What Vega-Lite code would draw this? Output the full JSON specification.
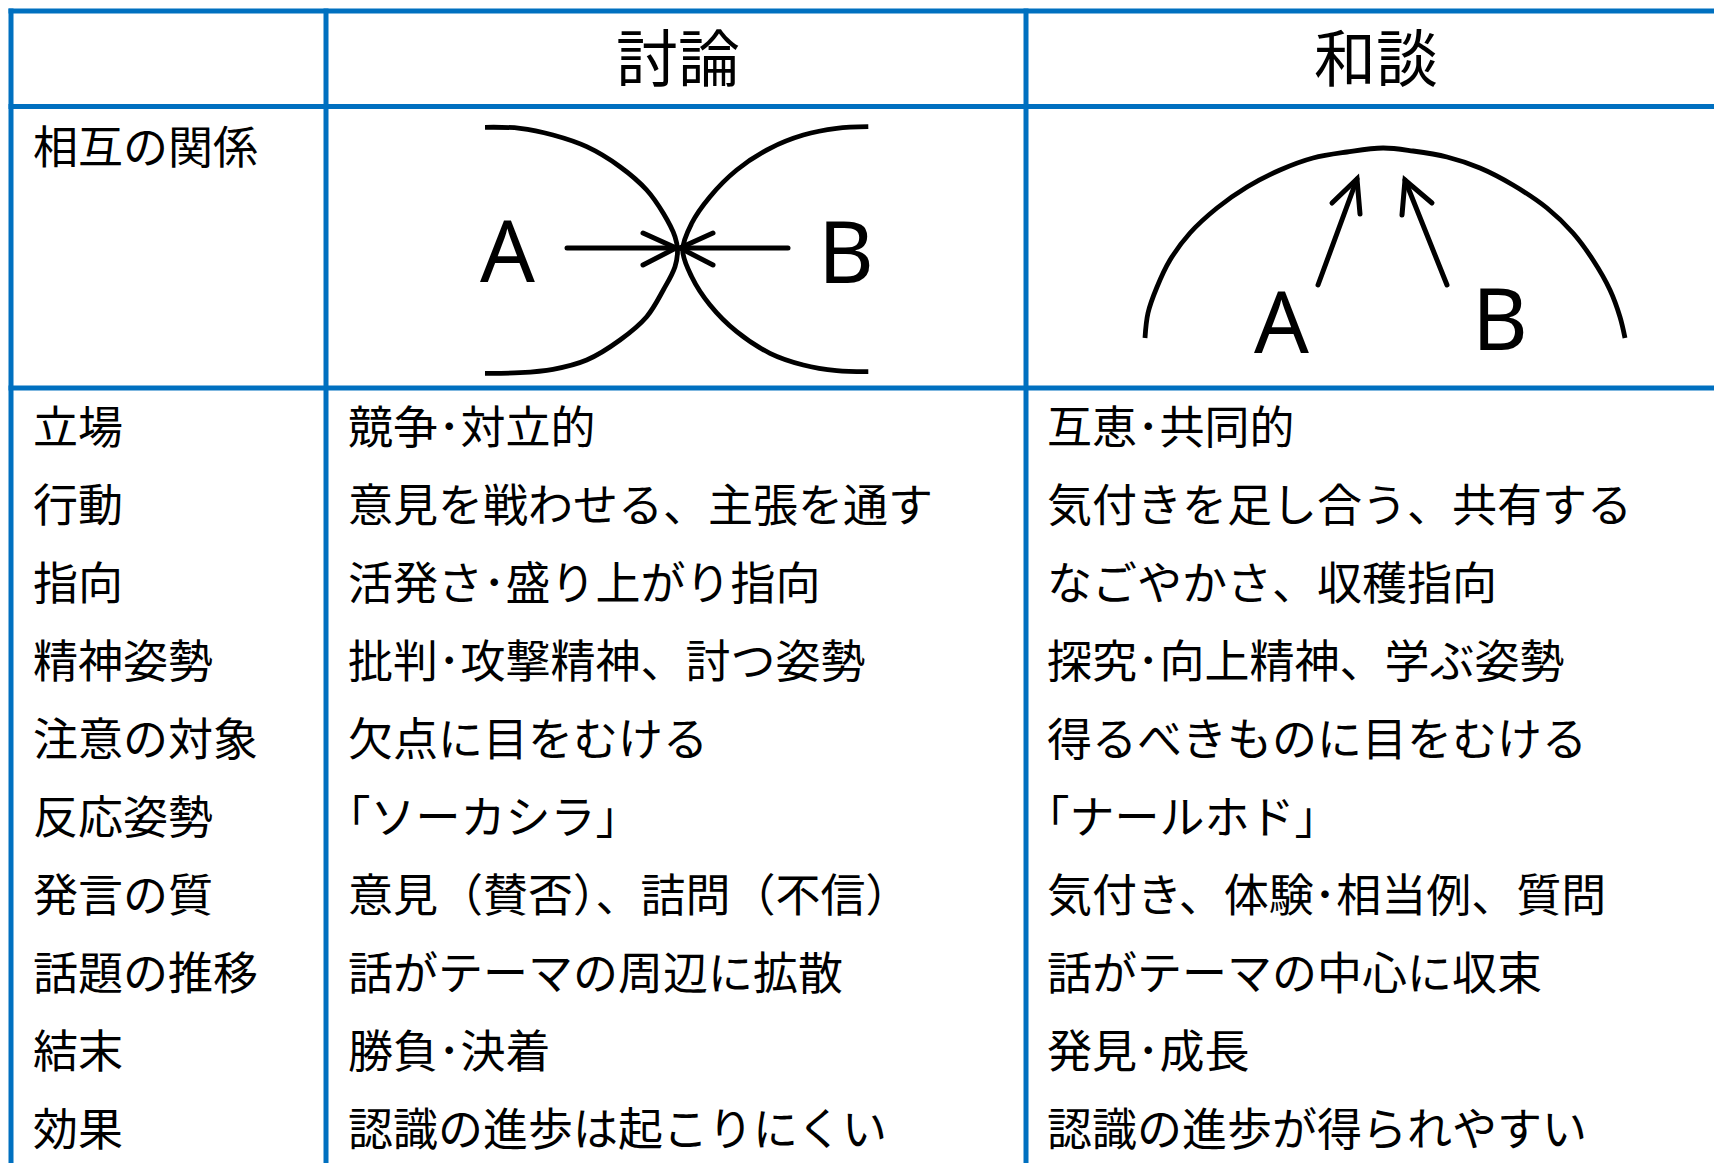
{
  "$schema": "https://vega.github.io/schema/vega-lite/v6.json",
  "width": 1714,
  "height": 1163,
  "padding": 0,
  "autosize": "none",
  "background": "white",
  "config": {"view": {"stroke": null}},
  "datasets": {
    "grid": [
      {"x": 11, "y": 11, "x2": 1714, "y2": 11},
      {"x": 11, "y": 106.5, "x2": 1714, "y2": 106.5},
      {"x": 11, "y": 388, "x2": 1714, "y2": 388},
      {"x": 11, "y": 11, "x2": 11, "y2": 1163},
      {"x": 326, "y": 11, "x2": 326, "y2": 1163},
      {"x": 1026, "y": 11, "x2": 1026, "y2": 1163}
    ],
    "arcs": [
      {"g": "L", "i": 0, "x": 485, "y": 127.3},
      {"g": "L", "i": 1, "x": 520, "y": 128.3},
      {"g": "L", "i": 2, "x": 553, "y": 135},
      {"g": "L", "i": 3, "x": 586.7, "y": 146.7},
      {"g": "L", "i": 4, "x": 620, "y": 166.7},
      {"g": "L", "i": 5, "x": 646.7, "y": 190},
      {"g": "L", "i": 6, "x": 663.3, "y": 213.3},
      {"g": "L", "i": 7, "x": 675, "y": 236.7},
      {"g": "L", "i": 8, "x": 677.5, "y": 250},
      {"g": "L", "i": 9, "x": 675, "y": 266.7},
      {"g": "L", "i": 10, "x": 663.3, "y": 290},
      {"g": "L", "i": 11, "x": 646.7, "y": 316.7},
      {"g": "L", "i": 12, "x": 620, "y": 340},
      {"g": "L", "i": 13, "x": 586.7, "y": 360},
      {"g": "L", "i": 14, "x": 553, "y": 369.3},
      {"g": "L", "i": 15, "x": 520, "y": 372.7},
      {"g": "L", "i": 16, "x": 485, "y": 373.3},
      {"g": "R", "i": 0, "x": 868.3, "y": 126.7},
      {"g": "R", "i": 1, "x": 836.7, "y": 128.3},
      {"g": "R", "i": 2, "x": 803.3, "y": 135},
      {"g": "R", "i": 3, "x": 770, "y": 148.3},
      {"g": "R", "i": 4, "x": 736.7, "y": 170},
      {"g": "R", "i": 5, "x": 710, "y": 196.7},
      {"g": "R", "i": 6, "x": 691.7, "y": 223.3},
      {"g": "R", "i": 7, "x": 682.7, "y": 250},
      {"g": "R", "i": 8, "x": 691.7, "y": 276.7},
      {"g": "R", "i": 9, "x": 710, "y": 305},
      {"g": "R", "i": 10, "x": 736.7, "y": 331.7},
      {"g": "R", "i": 11, "x": 770, "y": 353.3},
      {"g": "R", "i": 12, "x": 803.3, "y": 365},
      {"g": "R", "i": 13, "x": 836.7, "y": 370.7},
      {"g": "R", "i": 14, "x": 868.3, "y": 371.7},
      {"g": "D", "i": 0, "x": 1145, "y": 338},
      {"g": "D", "i": 1, "x": 1148, "y": 313},
      {"g": "D", "i": 2, "x": 1157, "y": 287},
      {"g": "D", "i": 3, "x": 1170, "y": 260},
      {"g": "D", "i": 4, "x": 1190, "y": 233},
      {"g": "D", "i": 5, "x": 1217, "y": 208},
      {"g": "D", "i": 6, "x": 1247, "y": 187},
      {"g": "D", "i": 7, "x": 1280, "y": 170},
      {"g": "D", "i": 8, "x": 1313, "y": 158},
      {"g": "D", "i": 9, "x": 1347, "y": 152},
      {"g": "D", "i": 10, "x": 1383, "y": 148},
      {"g": "D", "i": 11, "x": 1413, "y": 151},
      {"g": "D", "i": 12, "x": 1447, "y": 157},
      {"g": "D", "i": 13, "x": 1480, "y": 168},
      {"g": "D", "i": 14, "x": 1513, "y": 185},
      {"g": "D", "i": 15, "x": 1547, "y": 208},
      {"g": "D", "i": 16, "x": 1573, "y": 233},
      {"g": "D", "i": 17, "x": 1593, "y": 260},
      {"g": "D", "i": 18, "x": 1610, "y": 290},
      {"g": "D", "i": 19, "x": 1620, "y": 317},
      {"g": "D", "i": 20, "x": 1625, "y": 338}
    ],
    "arrows": [
      {"g": "aS", "i": 0, "x": 567, "y": 248},
      {"g": "aS", "i": 1, "x": 676, "y": 248},
      {"g": "aH", "i": 0, "x": 643, "y": 233},
      {"g": "aH", "i": 1, "x": 676, "y": 248},
      {"g": "aH", "i": 2, "x": 643, "y": 265},
      {"g": "bS", "i": 0, "x": 788, "y": 248},
      {"g": "bS", "i": 1, "x": 680, "y": 248},
      {"g": "bH", "i": 0, "x": 713, "y": 233},
      {"g": "bH", "i": 1, "x": 680, "y": 248},
      {"g": "bH", "i": 2, "x": 713, "y": 265},
      {"g": "cS", "i": 0, "x": 1318, "y": 285},
      {"g": "cS", "i": 1, "x": 1357, "y": 179},
      {"g": "cH", "i": 0, "x": 1332, "y": 203},
      {"g": "cH", "i": 1, "x": 1357, "y": 179},
      {"g": "cH", "i": 2, "x": 1360, "y": 214},
      {"g": "dS", "i": 0, "x": 1447, "y": 285},
      {"g": "dS", "i": 1, "x": 1405, "y": 180},
      {"g": "dH", "i": 0, "x": 1432, "y": 203},
      {"g": "dH", "i": 1, "x": 1405, "y": 180},
      {"g": "dH", "i": 2, "x": 1402, "y": 215}
    ],
    "letters": [
      {"x": 507.5, "y": 251, "t": "A"},
      {"x": 846, "y": 251.5, "t": "B"},
      {"x": 1281.5, "y": 322, "t": "A"},
      {"x": 1500, "y": 319, "t": "B"}
    ],
    "headers": [
      {"c": 1, "t": "討論"},
      {"c": 2, "t": "和談"}
    ],
    "body": [
      {"c": 0, "r": 0, "t": "相互の関係"},
      {"c": 0, "r": 1, "t": "立場"},
      {"c": 0, "r": 2, "t": "行動"},
      {"c": 0, "r": 3, "t": "指向"},
      {"c": 0, "r": 4, "t": "精神姿勢"},
      {"c": 0, "r": 5, "t": "注意の対象"},
      {"c": 0, "r": 6, "t": "反応姿勢"},
      {"c": 0, "r": 7, "t": "発言の質"},
      {"c": 0, "r": 8, "t": "話題の推移"},
      {"c": 0, "r": 9, "t": "結末"},
      {"c": 0, "r": 10, "t": "効果"},
      {"c": 1, "r": 1, "t": "競争･対立的"},
      {"c": 1, "r": 2, "t": "意見を戦わせる、主張を通す"},
      {"c": 1, "r": 3, "t": "活発さ･盛り上がり指向"},
      {"c": 1, "r": 4, "t": "批判･攻撃精神、討つ姿勢"},
      {"c": 1, "r": 5, "t": "欠点に目をむける"},
      {"c": 1, "r": 6, "t": "｢ソーカシラ｣"},
      {"c": 1, "r": 7, "t": "意見（賛否）、詰問（不信）"},
      {"c": 1, "r": 8, "t": "話がテーマの周辺に拡散"},
      {"c": 1, "r": 9, "t": "勝負･決着"},
      {"c": 1, "r": 10, "t": "認識の進歩は起こりにくい"},
      {"c": 2, "r": 1, "t": "互恵･共同的"},
      {"c": 2, "r": 2, "t": "気付きを足し合う、共有する"},
      {"c": 2, "r": 3, "t": "なごやかさ、収穫指向"},
      {"c": 2, "r": 4, "t": "探究･向上精神、学ぶ姿勢"},
      {"c": 2, "r": 5, "t": "得るべきものに目をむける"},
      {"c": 2, "r": 6, "t": "｢ナールホド｣"},
      {"c": 2, "r": 7, "t": "気付き、体験･相当例、質問"},
      {"c": 2, "r": 8, "t": "話がテーマの中心に収束"},
      {"c": 2, "r": 9, "t": "発見･成長"},
      {"c": 2, "r": 10, "t": "認識の進歩が得られやすい"}
    ]
  },
  "layer": [
    {
      "data": {"name": "grid"},
      "mark": {"type": "rule", "color": "#0070C0", "strokeWidth": 5, "strokeCap": "square"},
      "encoding": {
        "x": {"field": "x", "type": "quantitative", "axis": null, "scale": {"domain": [0, 1714], "range": [0, 1714], "nice": false, "zero": false}},
        "x2": {"field": "x2"},
        "y": {"field": "y", "type": "quantitative", "axis": null, "scale": {"domain": [0, 1163], "range": [0, 1163], "nice": false, "zero": false}},
        "y2": {"field": "y2"}
      }
    },
    {
      "data": {"name": "arcs"},
      "mark": {"type": "line", "color": "black", "strokeWidth": 4.8, "interpolate": "catmull-rom", "strokeCap": "butt"},
      "encoding": {
        "x": {"field": "x", "type": "quantitative", "axis": null, "scale": {"domain": [0, 1714], "range": [0, 1714], "nice": false, "zero": false}},
        "y": {"field": "y", "type": "quantitative", "axis": null, "scale": {"domain": [0, 1163], "range": [0, 1163], "nice": false, "zero": false}},
        "detail": {"field": "g", "type": "nominal"},
        "order": {"field": "i", "type": "quantitative"}
      }
    },
    {
      "data": {"name": "arrows"},
      "mark": {"type": "line", "color": "black", "strokeWidth": 5, "strokeCap": "round", "strokeJoin": "miter"},
      "encoding": {
        "x": {"field": "x", "type": "quantitative", "axis": null, "scale": {"domain": [0, 1714], "range": [0, 1714], "nice": false, "zero": false}},
        "y": {"field": "y", "type": "quantitative", "axis": null, "scale": {"domain": [0, 1163], "range": [0, 1163], "nice": false, "zero": false}},
        "detail": {"field": "g", "type": "nominal"},
        "order": {"field": "i", "type": "quantitative"}
      }
    },
    {
      "data": {"name": "letters"},
      "mark": {"type": "text", "font": "Noto Sans", "fontSize": 86, "align": "center", "baseline": "middle", "dy": 5, "color": "black"},
      "encoding": {
        "x": {"field": "x", "type": "quantitative", "axis": null, "scale": {"domain": [0, 1714], "range": [0, 1714], "nice": false, "zero": false}},
        "y": {"field": "y", "type": "quantitative", "axis": null, "scale": {"domain": [0, 1163], "range": [0, 1163], "nice": false, "zero": false}},
        "text": {"field": "t"}
      }
    },
    {
      "data": {"name": "headers"},
      "mark": {"type": "text", "font": "Noto Sans CJK JP", "fontSize": 62, "align": "center", "baseline": "middle", "dy": 4, "color": "black"},
      "encoding": {
        "x": {"field": "c", "type": "quantitative", "axis": null, "scale": {"domain": [1, 2], "range": [678, 1376], "nice": false, "zero": false}},
        "y": {"datum": 0, "type": "quantitative", "axis": null, "scale": {"domain": [0, 1], "range": [59, 146], "nice": false, "zero": false}},
        "text": {"field": "t"}
      }
    },
    {
      "data": {"name": "body"},
      "mark": {"type": "text", "font": "Noto Sans CJK JP", "fontSize": 45, "align": "left", "baseline": "middle", "dy": 4, "color": "black"},
      "encoding": {
        "x": {"field": "c", "type": "quantitative", "axis": null, "scale": {"domain": [0, 1, 2], "range": [33, 348, 1047], "nice": false, "zero": false}},
        "y": {"field": "r", "type": "quantitative", "axis": null, "scale": {"domain": [0, 1, 10], "range": [146, 426, 1128], "nice": false, "zero": false}},
        "text": {"field": "t"}
      }
    }
  ],
  "resolve": {"scale": {"x": "independent", "y": "independent"}}
}
